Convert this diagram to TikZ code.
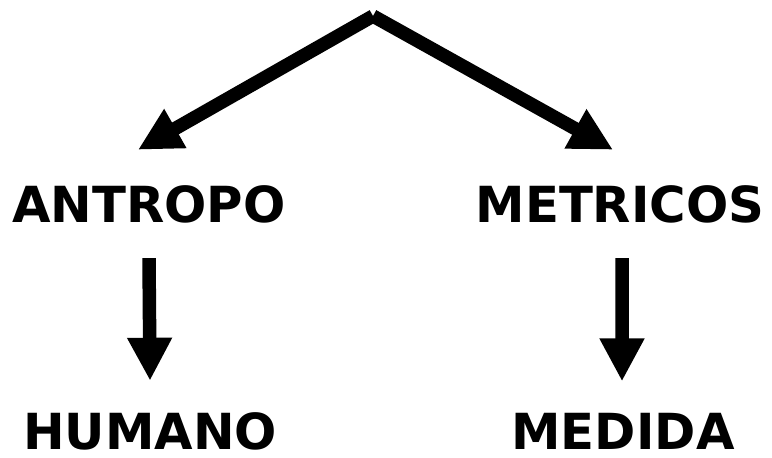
\documentclass[tikz,border=0pt]{standalone}
\usepackage{fontspec}
\setmainfont{DejaVu Sans}
\usetikzlibrary{arrows.meta}
\tikzset{
  word/.style = {font=\fontsize{28.3}{34}\selectfont\bfseries, inner sep=0pt, anchor=base},
  arr/.style = {line width=0.27cm, -{Triangle[width=0.84cm,length=0.86cm]}}
}
\begin{document}
\begin{tikzpicture}
	\useasboundingbox (0,0) rectangle (15.44,-9.14);
	\coordinate (apex) at (7.46,-0.32);
	\node [word] (antropo) at (2.98,-4.44) {ANTROPO};
	\node [word] (metricos) at (12.4,-4.44) {METRICOS};
	\node [word] (humano) at (3.0,-8.98) {HUMANO};
	\node [word] (medida) at (12.46,-8.98) {MEDIDA};
	\draw [arr] (apex) -- ([xshift=-0.22cm,yshift=0.7cm]antropo.north);
	\draw [arr] (apex) -- ([xshift=-0.14cm,yshift=0.7cm]metricos.north);
	\draw [arr] ([yshift=-0.7cm]antropo.south) -- ([yshift=0.62cm]humano.north);
	\draw [arr] ([xshift=0.04cm,yshift=-0.7cm]metricos.south) -- ([xshift=-0.02cm,yshift=0.62cm]medida.north);
\end{tikzpicture}
\end{document}
